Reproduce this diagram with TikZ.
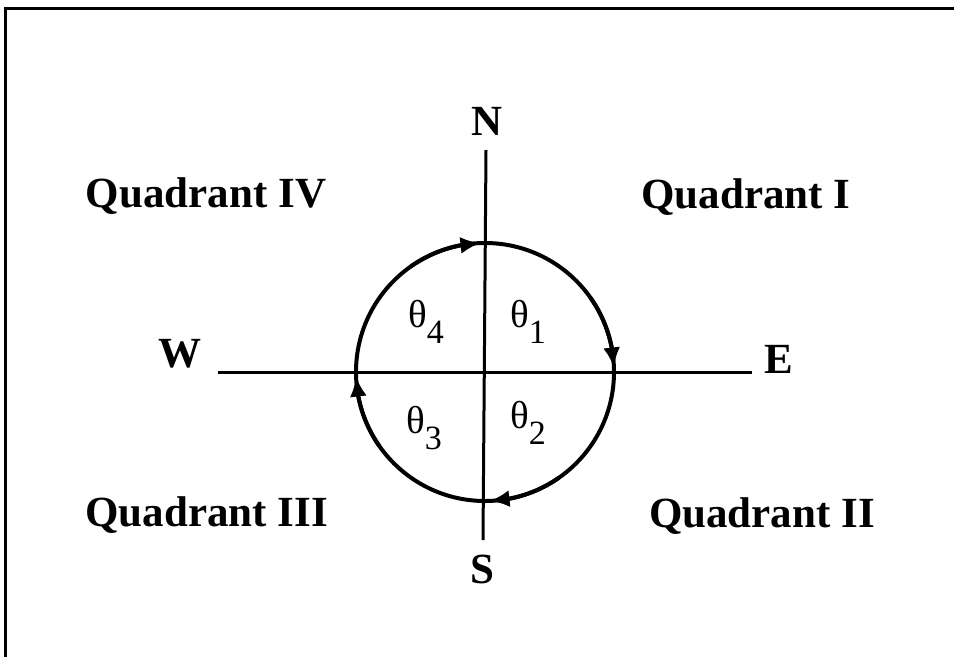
\documentclass[tikz,border=0pt]{standalone}
\usepackage{fontspec}
\setmainfont{Liberation Serif}
\usetikzlibrary{arrows.meta,bending}
\newcommand\thlab[1]{{\fontsize{39}{39}\selectfont θ\raisebox{-16pt}{\fontsize{34}{34}\selectfont #1}}}
\begin{document}
\begin{tikzpicture}[x=1pt,y=1pt,
  lbl/.style={font=\bfseries\fontsize{43}{43}\selectfont, inner sep=0pt, anchor=base},
  thl/.style={inner sep=0pt, anchor=base west},
  axisline/.style={line width=3pt},
  ring/.style={line width=4pt},
  cw/.style={ring, -{Latex[length=20pt,width=17pt,flex]}}]
\useasboundingbox (0,0) rectangle (954,-657);
% frame
\draw[line width=3pt] (5,-657) -- (5,-8.3) -- (954,-8.3);
% labels
\node[lbl] (q4) at (206,-207) {Quadrant IV};
\node[lbl] (q1) at (746,-208) {Quadrant I};
\node[lbl, anchor=base east] (q3) at (328,-526) {Quadrant III};
\node[lbl] (q2) at (762,-527) {Quadrant II};
\node[lbl] (N) at (487,-135) {N};
\node[lbl] (S) at (482,-583) {S};
\node[lbl] (W) at (180,-367) {W};
\node[lbl] (E) at (779,-373) {E};
% axes
\coordinate (xw) at (218,-372);
\coordinate (xe) at (752,-372);
\coordinate (yn) at (486,-150);
\coordinate (ys) at (483,-540);
\draw[axisline] (xw) -- (xe);
\draw[axisline] (yn) -- (ys);
% circle
\coordinate (c) at (485,-372);
\draw[ring] (c) circle[radius=129];
\draw[cw] ([shift={(125:129)}]c) arc[start angle=125, end angle=92, radius=129];
\draw[cw] ([shift={(35:129)}]c) arc[start angle=35, end angle=2, radius=129];
\draw[cw] ([shift={(-55:129)}]c) arc[start angle=-55, end angle=-88, radius=129];
\draw[cw] ([shift={(-145:129)}]c) arc[start angle=-145, end angle=-178, radius=129];
% theta labels
\node[thl] (t4) at (408,-327) {\thlab{4}};
\node[thl] (t1) at (510,-327) {\thlab{1}};
\node[thl] (t3) at (406,-433) {\thlab{3}};
\node[thl] (t2) at (510,-428) {\thlab{2}};
\end{tikzpicture}
\end{document}
